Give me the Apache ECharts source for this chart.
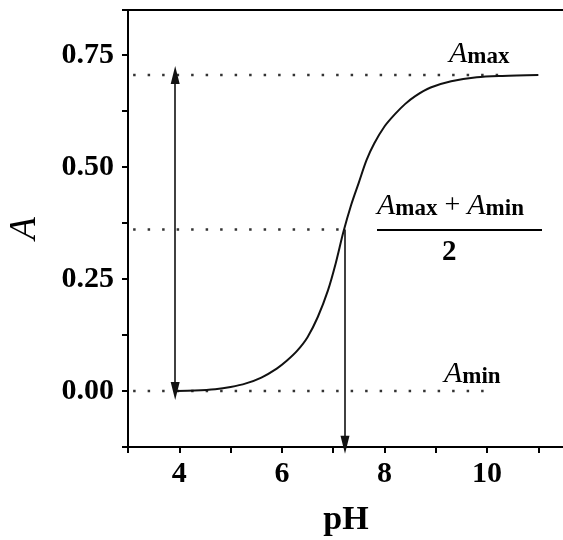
<!DOCTYPE html>
<html>
<head>
<meta charset="utf-8">
<script src="https://cdn.jsdelivr.net/npm/echarts@6/dist/echarts.min.js"></script>
<style>
  html, body { margin: 0; padding: 0; background: #fff; }
  #main { width: 563px; height: 540px; }
</style>
</head>
<body>
<div id="main"></div>
<script>
// titration curve
const phValues = [3.95, 4.3, 4.7, 5.0, 5.3, 5.6, 5.9, 6.1, 6.3, 6.5, 6.7, 6.9, 7.05, 7.2, 7.35, 7.5, 7.65, 7.8, 8.0, 8.2, 8.4, 8.6, 8.9, 9.3, 9.8, 10.3, 11.0]
const absValues = [0, 0.001, 0.004, 0.009, 0.017, 0.03, 0.05, 0.068, 0.09, 0.12, 0.165, 0.225, 0.285, 0.355, 0.415, 0.465, 0.515, 0.552, 0.59, 0.617, 0.64, 0.658, 0.677, 0.691, 0.70, 0.703, 0.705]

// dotted guide lines: level, start pH, end pH
const guideLevels = [0.705, 0.36, 0]
const guideStart = [3.1, 3.1, 3.1]
const guideEnd = [10.4, 7.2, 10.0]

// arrows
const rangeArrowPh = 3.92
const midArrowPh = 7.23
const midArrowBottom = -0.12

const xTicks = [4, 6, 8, 10]

const serif = '"Liberation Serif", "DejaVu Serif", serif'

let guideSeries = guideLevels.map((lv, i) => ({
  type: 'line',
  data: [[guideStart[i], lv], [guideEnd[i], lv]],
  symbol: 'none',
  silent: true,
  lineStyle: {color: '#333', width: 2.5, type: [2.5, 12]}
}))

let option = {
  animation: false,
  backgroundColor: '#fff',
  grid: {left: 128, right: -1, top: 10, bottom: 93, containLabel: false, outerBoundsMode: 'none'},
  xAxis: [
    {
      type: 'value',
      min: 3,
      max: 11.5,
      interval: 1,
      name: 'pH',
      nameLocation: 'middle',
      nameGap: 56,
      nameTextStyle: {fontFamily: serif, fontWeight: 'bold', fontSize: 34, color: '#000'},
      axisLine: {onZero: false, lineStyle: {color: '#000', width: 2}},
      axisTick: {length: 6, lineStyle: {color: '#000', width: 2}},
      splitLine: {show: false},
      axisLabel: {
        margin: 12,
        fontFamily: serif, fontWeight: 'bold', fontSize: 30, color: '#000',
        formatter: v => xTicks.includes(v) ? String(v) : ''
      }
    },
    {
      type: 'value',
      position: 'top',
      min: 3,
      max: 11.5,
      axisLine: {show: true, onZero: false, lineStyle: {color: '#000', width: 2}},
      axisTick: {show: false},
      axisLabel: {show: false},
      splitLine: {show: false}
    }
  ],
  yAxis: {
    type: 'value',
    min: -0.125,
    max: 0.85,
    interval: 0.125,
    name: 'A',
    nameLocation: 'middle',
    nameRotate: 90,
    nameGap: 84,
    nameTextStyle: {fontFamily: serif, fontStyle: 'italic', fontSize: 37, color: '#000'},
    axisLine: {show: true, onZero: false, lineStyle: {color: '#000', width: 2}},
    axisTick: {length: 6, lineStyle: {color: '#000', width: 2}},
    splitLine: {show: false},
    axisLabel: {
      margin: 14,
      fontFamily: serif, fontWeight: 'bold', fontSize: 30, color: '#000',
      formatter: v => (Math.abs(v / 0.25 - Math.round(v / 0.25)) < 1e-6 && v >= 0) ? v.toFixed(2) : ''
    }
  },
  series: [
    ...guideSeries,
    {
      type: 'line',
      data: phValues.map((p, i) => [p, absValues[i]]),
      smooth: 0.3,
      symbol: 'none',
      lineStyle: {color: '#111', width: 2},
      markLine: {
        silent: true,
        symbol: ['triangle', 'triangle'],
        symbolSize: [9, 18],
        label: {show: false},
        lineStyle: {color: '#111', width: 1.6, type: 'solid'},
        data: [
          [{coord: [rangeArrowPh, guideLevels[0]], symbol: 'triangle'}, {coord: [rangeArrowPh, 0], symbol: 'triangle'}],
          [{coord: [midArrowPh, guideLevels[1]], symbol: 'none'}, {coord: [midArrowPh, midArrowBottom], symbol: 'triangle'}]
        ]
      }
    }
  ],
  graphic: [
    {
      type: 'text', left: 449, top: 39,
      style: {
        text: '{a|A}{s|max}',
        rich: {
          a: {fontFamily: serif, fontStyle: 'italic', fontSize: 30, fill: '#000'},
          s: {fontFamily: serif, fontWeight: 'bold', fontSize: 23, fill: '#000', padding: [6, 0, 0, 0]}
        }
      }
    },
    {
      type: 'text', left: 444, top: 359,
      style: {
        text: '{a|A}{s|min}',
        rich: {
          a: {fontFamily: serif, fontStyle: 'italic', fontSize: 30, fill: '#000'},
          s: {fontFamily: serif, fontWeight: 'bold', fontSize: 23, fill: '#000', padding: [6, 0, 0, 0]}
        }
      }
    },
    {
      type: 'text', left: 377, top: 191,
      style: {
        text: '{a|A}{s|max}{p| + }{a|A}{s|min}',
        rich: {
          a: {fontFamily: serif, fontStyle: 'italic', fontSize: 30, fill: '#000'},
          s: {fontFamily: serif, fontWeight: 'bold', fontSize: 23, fill: '#000', padding: [6, 0, 0, 0]},
          p: {fontFamily: serif, fontSize: 28, fill: '#000'}
        }
      }
    },
    {
      type: 'line',
      shape: {x1: 377, y1: 230, x2: 542, y2: 230},
      style: {stroke: '#000', lineWidth: 2}
    },
    {
      type: 'text', left: 442, top: 238,
      style: {text: '2', fontFamily: serif, fontWeight: 'bold', fontSize: 29, fill: '#000'}
    }
  ]
}

let myChart = echarts.init(document.getElementById('main'))
myChart.setOption(option)
</script>
</body>
</html>
